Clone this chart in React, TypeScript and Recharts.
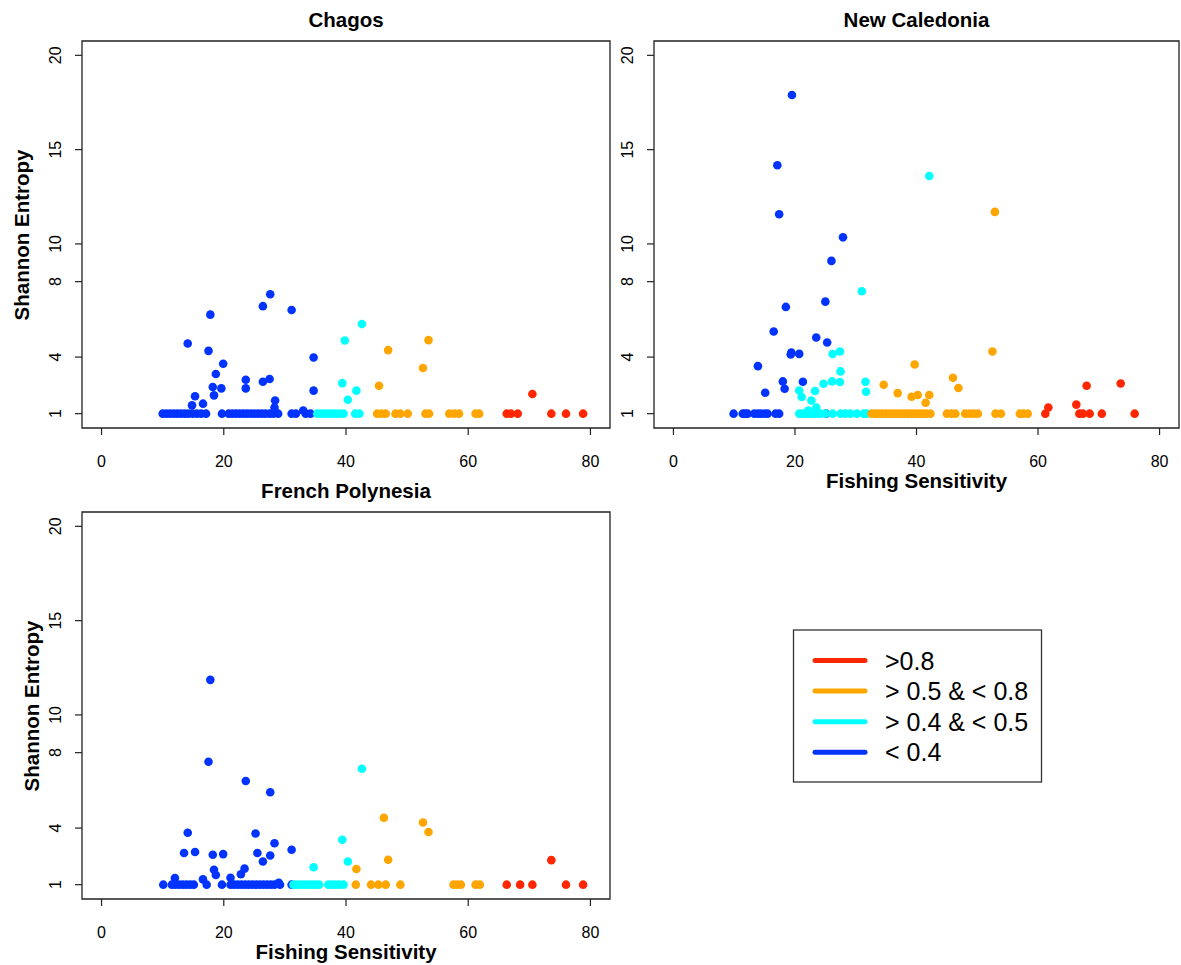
import React from 'react';
import { ScatterChart, Scatter, XAxis, YAxis, ReferenceArea } from 'recharts';

const FONT = '"Liberation Sans", Arial, Helvetica, sans-serif';

// tick labels
const xTicks = [0, 20, 40, 60, 80];
const yTicks = [1, 4, 8, 10, 15, 20];

// categories (legend order)
const categories = ['>0.8', '> 0.5 & < 0.8', '> 0.4 & < 0.5', '< 0.4'];
const colors = ['#FF2600', '#FFA500', '#00FFFF', '#0033FF'];

// [fishing sensitivity, shannon entropy]
type Pt = [number, number];

// Chagos
const chagosRed: Pt[] = [
  [66.3, 1], [67.0, 1], [68.1, 1], [73.6, 1], [76.0, 1], [78.8, 1], [70.5, 2.04],
];
const chagosOrange: Pt[] = [
  [45.1, 1], [45.8, 1], [46.5, 1], [48.1, 1], [48.9, 1], [50.1, 1], [53.0, 1], [53.6, 1],
  [56.9, 1], [57.7, 1], [58.5, 1], [61.2, 1], [61.8, 1],
  [53.5, 4.9], [46.9, 4.37], [52.6, 3.42], [45.4, 2.48],
];
const chagosCyan: Pt[] = [
  [35.3, 1], [35.9, 1], [36.5, 1], [37.1, 1], [37.7, 1], [38.3, 1], [38.9, 1], [39.6, 1],
  [41.5, 1], [42.2, 1],
  [42.6, 5.75], [39.8, 4.88], [39.4, 2.62], [41.7, 2.22], [40.3, 1.74],
];
const chagosBlue: Pt[] = [
  [10.0, 1], [10.6, 1], [11.2, 1], [11.8, 1], [12.4, 1], [13.0, 1], [13.6, 1], [14.2, 1],
  [14.9, 1], [15.6, 1], [16.3, 1], [17.1, 1], [19.7, 1], [20.8, 1], [21.4, 1], [22.0, 1],
  [22.6, 1], [23.2, 1], [23.8, 1], [24.4, 1], [25.0, 1], [25.6, 1], [26.2, 1], [26.8, 1],
  [27.5, 1], [28.1, 1], [28.9, 1], [31.1, 1], [31.8, 1], [33.4, 1], [34.2, 1],
  [27.6, 7.33], [26.4, 6.7], [17.8, 6.25], [31.1, 6.5], [14.1, 4.72], [17.5, 4.33],
  [34.7, 3.98], [19.9, 3.65], [18.7, 3.1], [23.6, 2.8], [27.5, 2.84], [26.4, 2.69],
  [18.2, 2.41], [19.6, 2.34], [23.6, 2.34], [18.4, 1.97], [15.3, 1.92], [34.7, 2.22],
  [16.6, 1.53], [14.8, 1.44], [28.4, 1.7], [28.3, 1.32], [33.0, 1.17],
];

// New Caledonia
const ncRed: Pt[] = [
  [61.2, 1], [66.8, 1], [67.4, 1], [68.5, 1], [70.5, 1], [75.9, 1],
  [61.7, 1.33], [66.3, 1.48], [68.0, 2.48], [73.6, 2.6],
];
const ncOrange: Pt[] = [
  [32.6, 1], [33.2, 1], [33.8, 1], [34.4, 1], [35.0, 1], [35.6, 1], [36.2, 1], [36.8, 1],
  [37.4, 1], [38.0, 1], [38.6, 1], [39.2, 1], [39.8, 1], [40.4, 1], [41.0, 1], [41.6, 1],
  [42.3, 1], [45.0, 1], [45.7, 1], [46.4, 1], [48.0, 1], [48.7, 1], [49.4, 1], [50.1, 1],
  [53.0, 1], [53.9, 1], [57.0, 1], [57.6, 1], [58.3, 1],
  [52.9, 11.7], [52.5, 4.3], [39.7, 3.61], [46.0, 2.9], [46.9, 2.36], [34.6, 2.53],
  [36.9, 2.09], [39.2, 1.9], [40.2, 1.99], [42.1, 1.99], [41.5, 1.58],
];
const ncCyan: Pt[] = [
  [20.7, 1], [21.2, 1], [21.7, 1], [22.2, 1], [22.7, 1], [23.2, 1], [23.7, 1], [24.2, 1],
  [25.0, 1], [26.2, 1], [27.5, 1], [28.3, 1], [29.1, 1], [30.2, 1], [31.3, 1], [31.8, 1],
  [42.1, 13.6], [31.0, 7.49], [26.2, 4.16], [27.4, 4.3], [27.5, 3.24], [24.7, 2.59],
  [26.1, 2.71], [27.4, 2.68], [31.6, 2.69], [31.7, 2.16], [23.3, 2.2], [20.7, 2.23],
  [21.1, 1.88], [22.7, 1.7], [22.2, 1.16], [23.5, 1.33],
];
const ncBlue: Pt[] = [
  [9.9, 1], [11.4, 1], [11.8, 1], [12.2, 1], [13.3, 1], [13.9, 1], [14.4, 1], [15.0, 1],
  [15.5, 1], [16.8, 1], [17.4, 1], [25.1, 1],
  [19.5, 17.9], [17.1, 14.17], [17.4, 11.57], [27.9, 10.35], [26.0, 9.1], [25.0, 6.94],
  [18.5, 6.66], [16.5, 5.36], [23.5, 5.04], [25.3, 4.77], [19.4, 4.24], [19.3, 4.14],
  [20.7, 4.17], [13.9, 3.52], [18.0, 2.71], [21.3, 2.69], [18.3, 2.32], [15.1, 2.11],
];

// French Polynesia
const fpRed: Pt[] = [
  [66.3, 1], [68.5, 1], [70.5, 1], [76.0, 1], [78.8, 1], [73.6, 2.3],
];
const fpOrange: Pt[] = [
  [41.6, 1], [44.1, 1], [45.3, 1], [46.5, 1], [48.9, 1], [57.6, 1], [58.2, 1], [58.8, 1],
  [61.2, 1], [61.9, 1],
  [46.2, 4.55], [52.6, 4.3], [53.5, 3.79], [46.9, 2.32], [41.7, 1.83],
];
const fpCyan: Pt[] = [
  [31.4, 1], [32.0, 1], [32.6, 1], [33.2, 1], [33.8, 1], [34.4, 1], [35.0, 1], [35.6, 1],
  [37.1, 1], [37.7, 1], [38.3, 1], [38.9, 1], [39.6, 1],
  [42.6, 7.15], [39.4, 3.38], [40.3, 2.23], [34.7, 1.92],
];
const fpBlue: Pt[] = [
  [10.1, 1], [11.5, 1], [12.1, 1], [12.7, 1], [13.3, 1], [13.9, 1], [14.5, 1], [15.1, 1],
  [17.2, 1], [19.7, 1], [21.1, 1], [21.7, 1], [22.3, 1], [22.9, 1], [23.5, 1], [24.1, 1],
  [24.7, 1], [25.3, 1], [25.9, 1], [26.5, 1], [27.1, 1], [27.7, 1], [28.3, 1], [29.2, 1],
  [31.1, 1],
  [17.8, 11.86], [17.5, 7.52], [23.6, 6.5], [27.6, 5.9], [14.1, 3.75], [25.2, 3.71],
  [28.3, 3.2], [13.5, 2.68], [15.3, 2.73], [18.2, 2.59], [19.9, 2.62], [25.5, 2.68],
  [27.6, 2.55], [26.4, 2.23], [31.1, 2.85], [23.4, 1.85], [22.8, 1.55], [18.4, 1.79],
  [18.7, 1.51], [12.0, 1.35], [16.6, 1.28], [21.1, 1.37], [29.0, 1.1],
];

const X_DOMAIN: [number, number] = [-3.2, 83.2];
const Y_DOMAIN: [number, number] = [0.24, 20.76];

const toRows = (pts: Pt[]) => pts.map(([fs, se]) => ({ fs, se }));

const YTick = (props: any) => {
  const { x, y, payload } = props;
  return (
    <text x={x} y={y} transform={`rotate(-90 ${x} ${y})`} textAnchor="middle"
      fontSize={16} fontFamily={FONT} fill="#000">{payload.value}</text>
  );
};

const XTick = (props: any) => {
  const { x, y, payload } = props;
  return (
    <text x={x} y={y} dy="0.71em" textAnchor="middle" fontSize={16} fontFamily={FONT} fill="#000">
      {payload.value}
    </text>
  );
};

const dot = (color: string) => (p: any) => <circle cx={p.cx} cy={p.cy} r={4.3} fill={color} />;

type PanelProps = {
  title: string;
  series: Pt[][]; // red, orange, cyan, blue
  left: number;
  top: number;
  width: number;
  marginRight: number;
  xLabel?: boolean;
  yLabelX?: number;
};

function Panel({ title, series, left, top, width, marginRight, xLabel, yLabelX }: PanelProps) {
  const height = 480;
  const m = { top: 41, right: marginRight, bottom: 22, left: 42 };
  const plotLeft = m.left + 40;
  const plotW = width - plotLeft - m.right;
  const plotTop = m.top;
  const plotH = height - m.top - m.bottom - 30;
  const textStyle: React.CSSProperties = {
    position: 'absolute', fontFamily: FONT, fontWeight: 'bold', fontSize: 20.5,
    whiteSpace: 'nowrap', color: '#000', lineHeight: '18px',
  };
  // draw blue first, red last
  const order = [3, 2, 1, 0];
  return (
    <div style={{ position: 'absolute', left, top, width, height }}>
      <ScatterChart width={width} height={height} margin={m}>
        <XAxis type="number" dataKey="fs" domain={X_DOMAIN} ticks={xTicks} allowDataOverflow
          axisLine={false} tickSize={7} tickMargin={21} tick={<XTick />}
          tickLine={{ stroke: '#222', strokeWidth: 1.2 }} height={30} interval={0} />
        <YAxis type="number" dataKey="se" domain={Y_DOMAIN} ticks={yTicks} allowDataOverflow
          axisLine={false} tickSize={7} tickMargin={14} tick={<YTick />}
          tickLine={{ stroke: '#222', strokeWidth: 1.2 }} width={40} interval={0} />
        <ReferenceArea x1={X_DOMAIN[0]} x2={X_DOMAIN[1]} y1={Y_DOMAIN[0]} y2={Y_DOMAIN[1]}
          fill="none" fillOpacity={0} stroke="#222" strokeWidth={1.3} />
        {order.map((i) => (
          <Scatter key={i} name={categories[i]} data={toRows(series[i])} fill={colors[i]}
            shape={dot(colors[i])} isAnimationActive={false} />
        ))}
      </ScatterChart>
      <div style={{ ...textStyle, left: plotLeft, width: plotW, textAlign: 'center', top: 11 }}>{title}</div>
      {xLabel && (
        <div style={{ ...textStyle, left: plotLeft, width: plotW, textAlign: 'center', top: plotTop + plotH + 44 }}>
          Fishing Sensitivity
        </div>
      )}
      {yLabelX !== undefined && (
        <div style={{ ...textStyle, left: yLabelX, top: plotTop + plotH / 2, transform: 'translate(-50%, -50%) rotate(-90deg)' }}>
          Shannon Entropy
        </div>
      )}
    </div>
  );
}

function LegendBox() {
  return (
    <svg width={252} height={156} style={{ position: 'absolute', left: 792, top: 628 }}>
      <rect x={1.5} y={2} width={248} height={152} fill="#fff" stroke="#333" strokeWidth={1.3} />
      {categories.map((c, i) => (
        <g key={c}>
          <line x1={23} x2={73} y1={32.5 + i * 30.6} y2={32.5 + i * 30.6} stroke={colors[i]}
            strokeWidth={5} strokeLinecap="round" />
          <text x={93} y={32.5 + i * 30.6} dy="0.36em" fontSize={25} fontFamily={FONT} fill="#000">{c}</text>
        </g>
      ))}
    </svg>
  );
}

export default function App() {
  return (
    <div style={{ position: 'absolute', left: 0, top: 0, width: 1181, height: 965, background: '#fff', overflow: 'hidden' }}>
      <Panel title="Chagos" series={[chagosRed, chagosOrange, chagosCyan, chagosBlue]}
        left={0} top={0} width={640} marginRight={30} yLabelX={22} />
      <Panel title="New Caledonia" series={[ncRed, ncOrange, ncCyan, ncBlue]}
        left={572} top={0} width={609} marginRight={2} xLabel />
      <Panel title="French Polynesia" series={[fpRed, fpOrange, fpCyan, fpBlue]}
        left={0} top={471} width={640} marginRight={30} xLabel yLabelX={32} />
      <LegendBox />
    </div>
  );
}
